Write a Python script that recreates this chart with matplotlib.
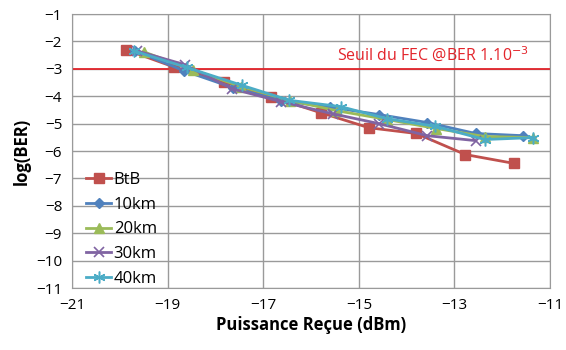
import numpy as np
import matplotlib.pyplot as plt

plt.rcParams['font.family'] = ['Open Sans', 'DejaVu Sans']

# received power (dBm) and log(BER) for each link length
btb_x = [-19.86, -18.87, -17.82, -16.83, -15.80, -14.79, -13.80, -12.77, -11.76]
btb_y = [-2.31, -2.93, -3.47, -4.02, -4.60, -5.15, -5.36, -6.13, -6.45]

km10_x = [-19.67, -18.66, -17.63, -16.62, -15.60, -14.58, -13.57, -12.56, -11.57]
km10_y = [-2.35, -3.07, -3.69, -4.16, -4.40, -4.67, -4.96, -5.36, -5.44]

km20_x = [-19.50, -18.47, -17.46, -16.43, -15.46, -14.41, -13.38, -12.37, -11.36]
km20_y = [-2.38, -3.04, -3.65, -4.16, -4.53, -4.85, -5.18, -5.47, -5.51]

km30_x = [-19.63, -18.64, -17.65, -16.62, -15.55, -14.58, -13.57, -12.56]
km30_y = [-2.35, -2.85, -3.73, -4.20, -4.64, -5.00, -5.44, -5.62]

km40_x = [-19.70, -18.60, -17.45, -16.45, -15.38, -14.41, -13.40, -12.37, -11.36]
km40_y = [-2.35, -2.95, -3.60, -4.15, -4.38, -4.82, -5.10, -5.58, -5.51]

fec_limit = -3

fig, ax = plt.subplots(figsize=(5.66, 3.5), dpi=100)
fig.subplots_adjust(left=0.127, right=0.972, top=0.96, bottom=0.177)

lw = 2.0
ax.plot(btb_x, btb_y, color='#C0504D', marker='s', ms=7.5, lw=lw, label='BtB', zorder=3)
ax.plot(km10_x, km10_y, color='#4F81BD', marker='D', ms=5.5, lw=lw, label='10km', zorder=4)
ax.plot(km20_x, km20_y, color='#9BBB59', marker='^', ms=7.5, lw=lw, label='20km', zorder=4)
ax.plot(km30_x, km30_y, color='#8064A2', marker='x', ms=7.5, mew=1.2, lw=lw, label='30km', zorder=5)
ax.plot(km40_x, km40_y, color='#4BACC6', marker=(6, 2, 0), ms=8.5, mew=1.1, lw=lw, label='40km', zorder=5)

ax.axhline(fec_limit, color='#E3242B', lw=1.3, zorder=2)
ax.text(-11.45, -2.5, 'Seuil du FEC @BER 1.10$^{-3}$', color='#E3242B',
        fontsize=11.5, ha='right', va='center')

ax.set_xlim(-21, -11)
ax.set_ylim(-11, -1)
ax.set_xticks(np.arange(-21, -10, 2))
ax.set_yticks(np.arange(-11, 0, 1))
ax.grid(True, color='#9a9a9a', lw=1.0, zorder=0)
ax.set_axisbelow(True)
for s in ax.spines.values():
    s.set_color('#9a9a9a')
ax.tick_params(length=0, labelsize=11, pad=7)

ax.set_xlabel('Puissance Reçue (dBm)', fontsize=12, fontweight='bold', labelpad=2)
ax.set_ylabel('log(BER)', fontsize=12, fontweight='bold', labelpad=4)

ax.legend(loc='lower left', frameon=False, fontsize=12, handlelength=1.5,
          handletextpad=0.15, labelspacing=0.52, borderaxespad=0.0,
          borderpad=0.0, bbox_to_anchor=(0.03, 0.005))

fig.savefig('out.png', dpi=100)
